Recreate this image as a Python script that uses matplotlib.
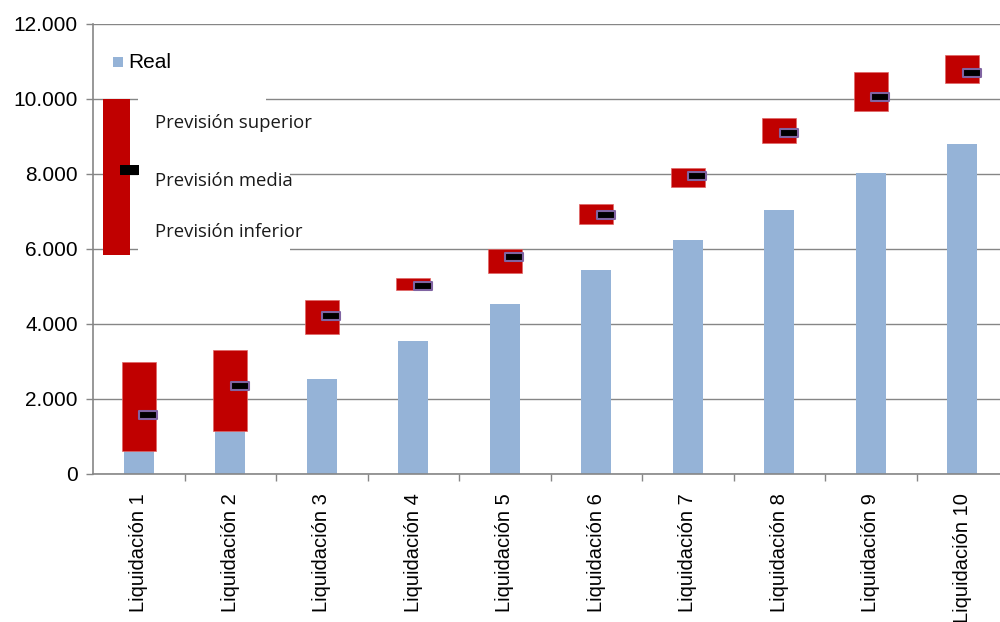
import matplotlib
matplotlib.use("Agg")
import matplotlib.pyplot as plt
import numpy as np
from matplotlib.patches import Rectangle
from matplotlib.path import Path
from matplotlib.ticker import FuncFormatter, FixedLocator

# datos
categorias = [f"Liquidación {i}" for i in range(1, 11)]
real = [600, 1150, 2530, 3550, 4530, 5440, 6240, 7040, 8030, 8800]
prev_sup = [2980, 3300, 4640, 5220, 6000, 7200, 8160, 9490, 10720, 11170]
prev_inf = [610, 1150, 3730, 4910, 5360, 6670, 7650, 8830, 9680, 10430]
prev_media = [1570, 2350, 4210, 5010, 5790, 6900, 7950, 9090, 10050, 10690]
yticks = [0, 2000, 4000, 6000, 8000, 10000, 12000]

AZUL = "#95B3D7"
ROJO = "#C00000"
GRIS = "#868686"

plt.rcParams['font.family'] = ['Liberation Sans', 'DejaVu Sans']

fig = plt.figure(figsize=(10, 6.22), dpi=100)
ax = fig.add_axes([0.093, 0.238, 0.915, 0.7235])

x = np.arange(len(categorias))
ax.bar(x, real, width=0.33, color=AZUL, zorder=2)
ax.bar(x, np.array(prev_sup) - np.array(prev_inf), bottom=prev_inf,
       width=0.37, color=ROJO, edgecolor="#E06666", linewidth=0.5, zorder=3)

# marcador rectangular de prevision media
rect_marker = Path([(-1, -0.4), (1, -0.4), (1, 0.4), (-1, 0.4), (-1, -0.4)],
                   [Path.MOVETO, Path.LINETO, Path.LINETO, Path.LINETO, Path.CLOSEPOLY])
ax.plot(x + 0.105, prev_media, ls="none", marker=rect_marker, markersize=13.5,
        markerfacecolor="black", markeredgecolor="#8064A2", markeredgewidth=1.5, zorder=4)

ax.set_xlim(-0.5, len(categorias) - 0.5)
ax.set_ylim(0, 12000)
ax.yaxis.set_major_locator(FixedLocator(yticks))
ax.yaxis.set_major_formatter(FuncFormatter(lambda v, p: f"{int(v):,}".replace(",", ".")))
ax.set_xticks(x)
ax.set_xticklabels(categorias, rotation=90, fontsize=14.5)
ax.xaxis.set_minor_locator(FixedLocator(np.arange(0.5, len(categorias) - 0.5, 1)))
ax.tick_params(axis="x", which="major", length=0, pad=14)
ax.tick_params(axis="x", which="minor", length=5, color=GRIS, width=1)
ax.tick_params(axis="y", length=5, color=GRIS, width=1, labelsize=15, pad=6)

ax.grid(axis="y", color=GRIS, linewidth=1, zorder=0)
ax.set_axisbelow(True)
for s in ["top", "right"]:
    ax.spines[s].set_visible(False)
for s in ["left", "bottom"]:
    ax.spines[s].set_color(GRIS)
    ax.spines[s].set_linewidth(1.2)

# leyenda dibujada a mano
T = ax.transAxes
ax.add_patch(Rectangle((0.049, 0.48), 0.166, 0.34, transform=T, facecolor="white",
                       edgecolor="none", zorder=1))
ax.add_patch(Rectangle((0.049, 0.82), 0.14, 0.03, transform=T, facecolor="white",
                       edgecolor="none", zorder=1))
ax.add_patch(Rectangle((0.022, 0.904), 0.011, 0.023, transform=T, facecolor=AZUL,
                       edgecolor="none", zorder=5))
ax.text(0.038, 0.915, "Real", transform=T, fontsize=15, va="center", ha="left", zorder=5)
ax.add_patch(Rectangle((0.011, 0.487), 0.029, 0.346, transform=T, facecolor=ROJO,
                       edgecolor="none", zorder=5))
ax.add_patch(Rectangle((0.0295, 0.664), 0.0205, 0.023, transform=T, facecolor="black",
                       edgecolor="none", zorder=6))
for ty, txt in [(0.779, "Previsión superior"), (0.651, "Previsión media"),
                (0.537, "Previsión inferior")]:
    ax.text(0.068, ty, txt, transform=T, fontsize=13.3, va="center", ha="left",
            family=["Open Sans", "DejaVu Sans"], color="#1a1a1a", zorder=5)

fig.savefig("out.png", dpi=100)
